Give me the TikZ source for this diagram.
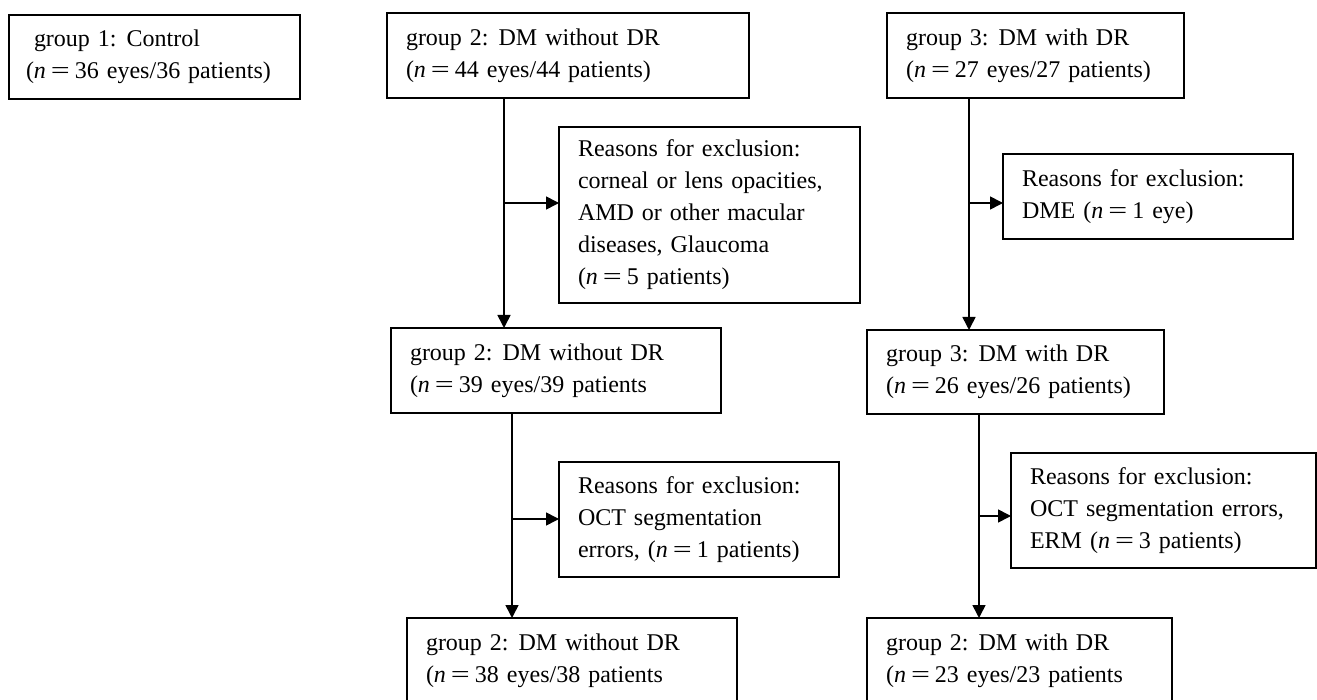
\documentclass[tikz,border=0pt]{standalone}
\usepackage{fontspec}
\setmainfont{Liberation Serif}
\usetikzlibrary{arrows.meta}
\newcommand{\boxfont}{\fontsize{24}{32}\selectfont\frenchspacing\hyphenpenalty=10000\relax}
\tikzset{
  box/.style={draw, line width=1.6pt, outer sep=0pt, inner xsep=19pt, inner ysep=0pt,
    anchor=north west, align=left, font=\boxfont},
  arr/.style={line width=1.6pt, -{Triangle[length=13pt,width=13pt]}}
}
\newcommand{\nn}{\textit{n}\hspace{5pt}\scalebox{1.4}[1]{=}\hspace{5pt}}
\newcommand{\cs}{\hspace{10pt}}
\begin{document}
\begin{tikzpicture}[x=1pt,y=-1pt]
\useasboundingbox (0,0) rectangle (1317,700);
\clip (0,0) rectangle (1317,700);
% boxes (left, top), width = text width + 2*xsep, height
\node[box, inner xsep=17pt, text width=257pt, minimum height=84pt] (b1) at (9,15)
  {\hspace{8pt}group 1:\cs Control\\(\nn 36 eyes/36 patients)};
\node[box, text width=324pt, minimum height=85pt] (g2a) at (387,13)
  {group 2:\cs DM without DR\\(\nn 44 eyes/44 patients)};
\node[box, text width=259pt, minimum height=85pt] (g3a) at (887,13)
  {group 3:\cs DM with DR\\(\nn 27 eyes/27 patients)};
\node[box, text width=263pt, minimum height=176pt] (ex1) at (559,127)
  {Reasons for exclusion:\\corneal or lens opacities,\\AMD or other macular\\diseases, Glaucoma\\(\nn 5 patients)};
\node[box, text width=252pt, minimum height=85pt] (ex2) at (1003,154)
  {Reasons for exclusion:\\DME (\nn 1 eye)};
\node[box, text width=292pt, minimum height=85pt] (g2b) at (391,328)
  {group 2:\cs DM without DR\\(\nn 39 eyes/39 patients};
\node[box, text width=259pt, minimum height=84pt] (g3b) at (867,330)
  {group 3:\cs DM with DR\\(\nn 26 eyes/26 patients)};
\node[box, text width=242pt, minimum height=115pt] (ex3) at (559,462)
  {Reasons for exclusion:\\OCT segmentation\\errors, (\nn 1 patients)};
\node[box, text width=267pt, minimum height=115pt] (ex4) at (1011,453)
  {Reasons for exclusion:\\OCT segmentation errors,\\ERM (\nn 3 patients)};
\node[box, text width=292pt, minimum height=85pt] (g2c) at (407,618)
  {group 2:\cs DM without DR\\(\nn 38 eyes/38 patients};
\node[box, text width=267pt, minimum height=85pt] (g3c) at (867,618)
  {group 2:\cs DM with DR\\(\nn 23 eyes/23 patients};
% branch points
\coordinate (j1) at (504,203);
\coordinate (j2) at (969,203);
\coordinate (j3) at (512,519);
\coordinate (j4) at (979,516);
% connectors
\draw[arr] (j1 |- g2a.south) -- (j1 |- g2b.north);
\draw[arr] (j1) -- (ex1.west |- j1);
\draw[arr] (j2 |- g3a.south) -- (j2 |- g3b.north);
\draw[arr] (j2) -- (ex2.west |- j2);
\draw[arr] (j3 |- g2b.south) -- (j3 |- g2c.north);
\draw[arr] (j3) -- (ex3.west |- j3);
\draw[arr] (j4 |- g3b.south) -- (j4 |- g3c.north);
\draw[arr] (j4) -- (ex4.west |- j4);
\end{tikzpicture}
\end{document}
